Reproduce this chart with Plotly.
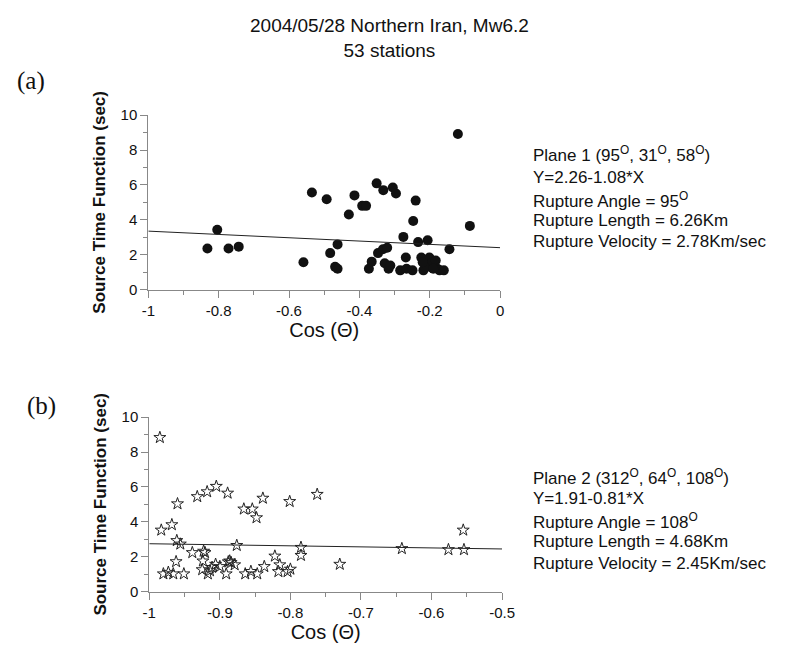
import plotly.graph_objects as go

# ---- Data ----
cos_a = [-0.832, -0.804, -0.772, -0.743, -0.559, -0.535, -0.493, -0.483, -0.462, -0.469,
         -0.462, -0.430, -0.414, -0.392, -0.381, -0.373, -0.365, -0.351, -0.332, -0.347,
         -0.333, -0.321, -0.328, -0.317, -0.312, -0.305, -0.296, -0.284, -0.275, -0.268,
         -0.266, -0.249, -0.240, -0.247, -0.233, -0.224, -0.218, -0.211, -0.206, -0.201,
         -0.197, -0.192, -0.183, -0.178, -0.172, -0.160, -0.144, -0.120, -0.086, -0.221,
         -0.213, -0.190, -0.220]
stf_a = [2.35, 3.43, 2.35, 2.46, 1.56, 5.57, 5.18, 2.09, 2.59, 1.30,
         1.19, 4.30, 5.40, 4.80, 4.80, 1.19, 1.60, 6.09, 5.70, 2.09,
         2.31, 2.40, 1.51, 1.19, 1.38, 5.85, 5.51, 1.10, 3.02, 1.84,
         1.19, 1.10, 5.10, 3.93, 2.72, 1.84, 1.10, 1.56, 2.83, 1.84,
         1.28, 1.56, 1.66, 1.19, 1.10, 1.10, 2.31, 8.92, 3.65, 1.75,
         1.28, 1.19, 1.56]
fit_a_x = [-1.0, 0.0]
fit_a_y = [3.35, 2.40]

cos_b = [-0.985, -0.983, -0.980, -0.973, -0.966, -0.968, -0.960, -0.961, -0.956, -0.962,
         -0.951, -0.939, -0.932, -0.924, -0.923, -0.921, -0.925, -0.918, -0.917, -0.914,
         -0.911, -0.905, -0.906, -0.900, -0.891, -0.889, -0.886, -0.884, -0.879, -0.876,
         -0.866, -0.864, -0.854, -0.856, -0.848, -0.847, -0.839, -0.837, -0.822, -0.815,
         -0.817, -0.804, -0.800, -0.801, -0.785, -0.785, -0.762, -0.730, -0.642, -0.576,
         -0.555, -0.554, -0.888]
stf_b = [8.83, 3.52, 1.01, 1.10, 1.01, 3.83, 5.03, 2.92, 2.72, 1.71,
         1.01, 2.23, 5.44, 1.75, 2.31, 2.23, 1.25, 5.72, 1.01, 1.19,
         1.38, 6.03, 1.56, 1.43, 1.01, 5.64, 1.75, 1.66, 1.53, 2.64,
         4.73, 1.01, 4.73, 1.15, 4.23, 1.01, 5.35, 1.43, 2.03, 1.53,
         1.14, 1.14, 1.28, 5.16, 2.53, 2.07, 5.57, 1.56, 2.46, 2.40,
         3.52, 2.40, 1.70]
fit_b_x = [-1.0, -0.5]
fit_b_y = [2.74, 2.44]

title_lines = ["2004/05/28 Northern Iran, Mw6.2", "53 stations"]
info_a = ["Plane 1 (95<sup>O</sup>, 31<sup>O</sup>, 58<sup>O</sup>)",
          "Y=2.26-1.08*X",
          "Rupture Angle = 95<sup>O</sup>",
          "Rupture Length = 6.26Km",
          "Rupture Velocity = 2.78Km/sec"]
info_b = ["Plane 2 (312<sup>O</sup>, 64<sup>O</sup>, 108<sup>O</sup>)",
          "Y=1.91-0.81*X",
          "Rupture Angle = 108<sup>O</sup>",
          "Rupture Length = 4.68Km",
          "Rupture Velocity = 2.45Km/sec"]

W, H = 785, 656
FONT = "Liberation Sans, Arial, sans-serif"

fig = go.Figure()
fig.add_trace(go.Scatter(x=cos_a, y=stf_a, mode="markers", xaxis="x", yaxis="y",
                         marker=dict(symbol="circle", size=10, color="#111111"),
                         showlegend=False))
fig.add_trace(go.Scatter(x=fit_a_x, y=fit_a_y, mode="lines", xaxis="x", yaxis="y",
                         line=dict(color="#222222", width=1), showlegend=False))
fig.add_trace(go.Scatter(x=cos_b, y=stf_b, mode="markers", xaxis="x2", yaxis="y2",
                         marker=dict(symbol="star-open", size=9, color="#222222",
                                     line=dict(width=1)),
                         showlegend=False))
fig.add_trace(go.Scatter(x=fit_b_x, y=fit_b_y, mode="lines", xaxis="x2", yaxis="y2",
                         line=dict(color="#222222", width=1), showlegend=False))

def px_x(p):
    return p / W

def px_y(p):
    return 1 - p / H

axis_common = dict(showgrid=False, zeroline=False, showline=True, linecolor="#888888",
                   linewidth=1, ticks="outside", ticklen=7, tickcolor="#888888",
                   tickfont=dict(family=FONT, size=15, color="#111111"))

xtitle_font = dict(family=FONT, size=20, color="#111111")
ytitle_font = dict(family=FONT, size=17, color="#111111")

fig.update_layout(
    width=W, height=H, margin=dict(l=0, r=0, t=0, b=0),
    paper_bgcolor="white", plot_bgcolor="white",
    xaxis=dict(domain=[px_x(145), px_x(506)], range=[-1, 0], anchor="y",
               tickmode="array", tickvals=[-1, -0.8, -0.6, -0.4, -0.2, 0],
               ticktext=["-1", "-0.8", "-0.6", "-0.4", "-0.2", "0"],
               minor=dict(dtick=0.1, ticks="outside", ticklen=4, tickcolor="#888888"),
               title=dict(text="Cos (Θ)", font=xtitle_font, standoff=2),
               **axis_common),
    yaxis=dict(domain=[px_y(288), px_y(109)], range=[0, 10], anchor="x",
               tickvals=[0, 2, 4, 6, 8, 10],
               minor=dict(dtick=1, ticks="outside", ticklen=4, tickcolor="#888888"),
               title=dict(text="<b>Source Time Function (sec)</b>",
                          font=ytitle_font, standoff=10),
               **axis_common),
    xaxis2=dict(domain=[px_x(146), px_x(508)], range=[-1, -0.5], anchor="y2",
                tickmode="array", tickvals=[-1, -0.9, -0.8, -0.7, -0.6, -0.5],
                ticktext=["-1", "-0.9", "-0.8", "-0.7", "-0.6", "-0.5"],
                minor=dict(dtick=0.05, ticks="outside", ticklen=4, tickcolor="#888888"),
                title=dict(text="Cos (Θ)", font=xtitle_font, standoff=2),
                **axis_common),
    yaxis2=dict(domain=[px_y(598), px_y(419)], range=[0, 10], anchor="x2",
                tickvals=[0, 2, 4, 6, 8, 10],
                minor=dict(dtick=1, ticks="outside", ticklen=4, tickcolor="#888888"),
                title=dict(text="<b>Source Time Function (sec)</b>",
                           font=ytitle_font, standoff=10),
                **axis_common),
)

ann = []
ann.append(dict(text=title_lines[0] + "<br>" + title_lines[1], x=px_x(392), y=px_y(4),
                xref="paper", yref="paper", xanchor="center", yanchor="top",
                showarrow=False, font=dict(family=FONT, size=19, color="#111111")))
ann.append(dict(text="(a)", x=px_x(8), y=px_y(74), xref="paper", yref="paper",
                xanchor="left", yanchor="middle", showarrow=False,
                font=dict(family="Liberation Serif, Times New Roman, serif", size=25, color="#111111")))
ann.append(dict(text="(b)", x=px_x(18), y=px_y(408), xref="paper", yref="paper",
                xanchor="left", yanchor="middle", showarrow=False,
                font=dict(family="Liberation Serif, Times New Roman, serif", size=25, color="#111111")))

ys_a = [149, 173, 196, 217, 239]
for t, yy in zip(info_a, ys_a):
    ann.append(dict(text=t, x=px_x(538), y=px_y(yy), xref="paper", yref="paper",
                    xanchor="left", yanchor="middle", showarrow=False,
                    font=dict(family=FONT, size=17, color="#111111")))
ys_b = [480, 503, 526, 547, 569]
for t, yy in zip(info_b, ys_b):
    ann.append(dict(text=t, x=px_x(538), y=px_y(yy), xref="paper", yref="paper",
                    xanchor="left", yanchor="middle", showarrow=False,
                    font=dict(family=FONT, size=17, color="#111111")))
fig.update_layout(annotations=ann)

fig.write_html("out.html")
